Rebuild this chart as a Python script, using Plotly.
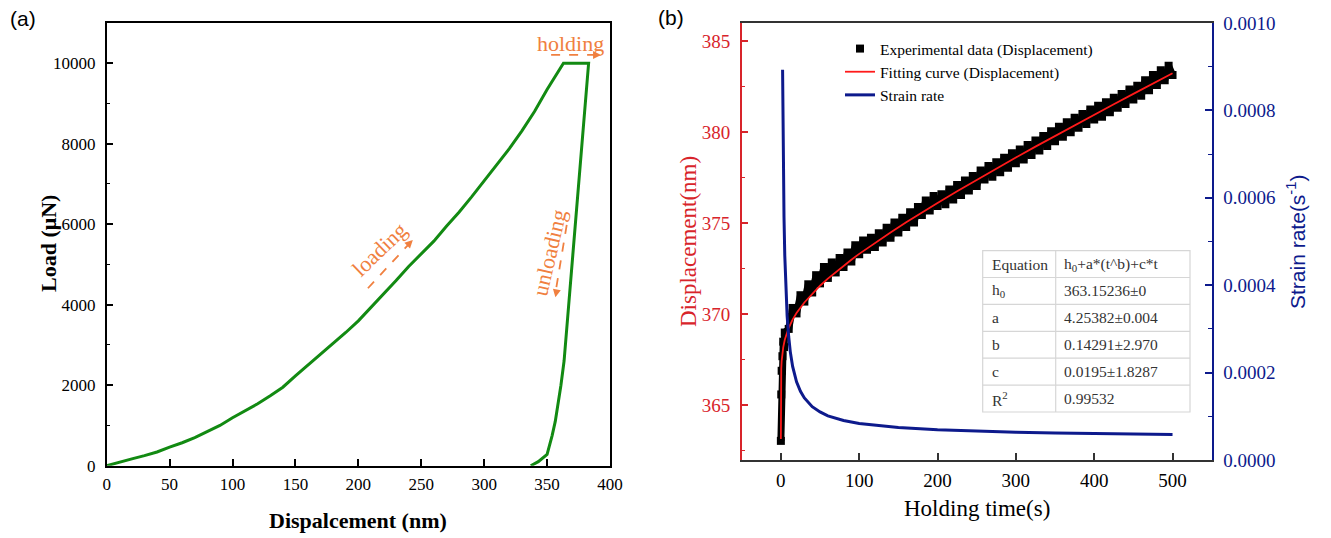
import plotly.graph_objects as go

# ---------------- Panel (a): load-displacement ----------------
load_disp = [0, 10, 20, 30, 40, 50, 60, 70, 80, 90, 100, 110, 120, 130, 140, 150,
             160, 170, 180, 190, 200, 210, 220, 230, 240, 250, 260, 270, 280, 290,
             300, 310, 320, 330, 340, 350, 357, 363, 383,
             377.8, 372.6, 367.5, 365.5, 363.5, 361, 358.5, 356.5, 354, 352, 350, 343, 337]
load_val = [0, 90, 170, 250, 340, 460, 570, 700, 850, 1000, 1190, 1360, 1540, 1740, 1950, 2230,
            2500, 2760, 3050, 3310, 3600, 3930, 4250, 4600, 4950, 5260, 5580, 5950, 6300, 6680,
            7080, 7450, 7880, 8320, 8800, 9350, 9700, 10000, 10000,
            8000, 6000, 4000, 3300, 2600, 2000, 1500, 1100, 750, 480, 280, 100, 0]

# ---------------- Panel (b): holding creep ----------------
exp_t = [0, 0.5, 1, 2, 3, 4, 5, 10, 15, 20, 25, 30, 35, 40, 45, 50, 55, 60, 65, 70, 75, 80, 85, 90, 95,
         100, 105, 110, 115, 120, 125, 130, 135, 140, 145, 150, 155, 160, 165, 170, 175, 180, 185, 190, 195,
         200, 205, 210, 215, 220, 225, 230, 235, 240, 245, 250, 255, 260, 265, 270, 275, 280, 285, 290, 295,
         300, 305, 310, 315, 320, 325, 330, 335, 340, 345, 350, 355, 360, 365, 370, 375, 380, 385, 390, 395,
         400, 405, 410, 415, 420, 425, 430, 435, 440, 445, 450, 455, 460, 465, 470, 475, 480, 485, 490, 495, 500]
exp_h = [363.05, 365.6, 366.9, 367.7, 368.5, 368.2, 369.0, 369.2, 370.35, 370.05, 371.05, 370.7, 371.65, 371.2, 372.15,
         371.7, 372.6, 372.0, 372.85, 372.3, 373.1, 372.6, 373.4, 372.9, 373.8,
         373.3, 374.05, 373.55, 374.2, 373.7, 374.45, 373.95, 374.75, 374.2, 375.05, 374.5, 375.3, 374.8, 375.6, 375.05,
         375.9, 375.45, 376.25, 375.7, 376.5,
         375.95, 376.6, 376.05, 376.85, 376.3, 377.1, 376.55, 377.35, 376.8, 377.6, 377.05, 377.9, 377.4, 378.15, 377.55,
         378.35, 377.8, 378.6, 378.05, 378.85,
         378.3, 379.05, 378.5, 379.3, 378.75, 379.55, 379.0, 379.8, 379.25, 380.05, 379.5, 380.3, 379.75, 380.55, 380.0,
         380.8, 380.25, 381.0, 380.45, 381.25,
         380.7, 381.45, 380.85, 381.65, 381.1, 381.9, 381.35, 382.1, 381.55, 382.35, 381.8, 382.55, 382.0, 382.85, 382.3,
         383.15, 382.6, 383.4, 382.85, 383.65, 383.15]

fit_t = [0, 0.001, 0.01, 0.05, 0.2, 0.5, 1, 2, 3, 5, 7, 10, 15, 20, 30, 40, 50, 60, 70, 80, 90, 100,
         120, 140, 160, 180, 200, 225, 250, 275, 300, 325, 350, 375, 400, 425, 450, 475, 500]
fit_h = [363.15, 364.74, 365.36, 365.93, 366.53, 367.01, 367.43, 367.89, 368.19, 368.60, 368.91, 369.26,
         369.71, 370.07, 370.65, 371.14, 371.57, 371.96, 372.32, 372.67, 373.00, 373.32,
         373.92, 374.50, 375.06, 375.60, 376.12, 376.76, 377.39, 378.01, 378.61, 379.21, 379.80,
         380.39, 380.97, 381.54, 382.11, 382.68, 383.24]

sr_t = [2.2, 3, 4, 5, 6, 8, 10, 12, 15, 20, 25, 30, 40, 50, 60, 80, 100, 125, 150, 200, 250, 300, 350, 400, 450, 500]
sr_v = [0.000893, 0.000697, 0.000556, 0.000468, 0.000408, 0.000330, 0.000282, 0.000248, 0.000214, 0.000179,
        0.000157, 0.000142, 0.000122, 0.000110, 0.000101, 0.0000905, 0.0000837, 0.0000781, 0.0000742,
        0.0000691, 0.0000659, 0.0000636, 0.0000619, 0.0000606, 0.0000595, 0.0000586]

tbl_col1 = ["Equation", "h<sub>0</sub>", "a", "b", "c", "R<sup>2</sup>"]
tbl_col2 = ["h<sub>0</sub>+a*(t^b)+c*t", "363.15236±0", "4.25382±0.004", "0.14291±2.970",
            "0.0195±1.8287", "0.99532"]

W, H = 1331, 538
SERIF = "Liberation Serif"
SANS = "Liberation Sans"
GREEN = "#128a12"
ORANGE = "#f08040"
RED = "#d8242a"
NAVY = "#0d1a8c"

def px(x):
    return x / W

def py(y):
    return 1 - y / H

fig = go.Figure()

fig.add_trace(go.Scatter(x=load_disp, y=load_val, mode="lines", line=dict(color=GREEN, width=3),
                         showlegend=False, xaxis="x", yaxis="y"))

# experimental data: dense band (line through the points) + square markers
fig.add_trace(go.Scatter(x=exp_t, y=exp_h, mode="lines", line=dict(color="black", width=7),
                         showlegend=False, hoverinfo="skip", xaxis="x2", yaxis="y2"))
fig.add_trace(go.Scatter(x=exp_t, y=exp_h, mode="markers", name="Experimental data (Displacement)",
                         marker=dict(symbol="square", size=8, color="black"), xaxis="x2", yaxis="y2"))
fig.add_trace(go.Scatter(x=fit_t, y=fit_h, mode="lines", name="Fitting curve (Displacement)",
                         line=dict(color="#ff1a1a", width=1.8), xaxis="x2", yaxis="y2"))
fig.add_trace(go.Scatter(x=sr_t, y=sr_v, mode="lines", name="Strain rate",
                         line=dict(color=NAVY, width=3), xaxis="x2", yaxis="y3"))

tickfont_a = dict(family=SERIF, size=17, color="black")
fig.update_layout(
    width=W, height=H, margin=dict(l=0, r=0, t=0, b=0, autoexpand=False),
    paper_bgcolor="white", plot_bgcolor="white",
    font=dict(family=SERIF),
    xaxis=dict(domain=[px(106.7), px(610)], range=[0, 400], tick0=0, dtick=50,
               ticks="inside", ticklen=7, tickwidth=1.5, tickcolor="black",
               showline=True, linecolor="black", linewidth=1.5, mirror=True,
               showgrid=False, zeroline=False, tickfont=tickfont_a, ticklabelstandoff=2, anchor="y"),
    yaxis=dict(domain=[py(465.7), py(23)], range=[0, 11000], tick0=0, dtick=2000, tickformat="d",
               ticks="inside", ticklen=7, tickwidth=1.5, tickcolor="black",
               minor=dict(ticks="inside", ticklen=4, dtick=1000, tickcolor="black", tickwidth=1.2),
               showline=True, linecolor="black", linewidth=1.5, mirror=True,
               showgrid=False, zeroline=False, tickfont=tickfont_a, ticklabelstandoff=6, anchor="x"),
    xaxis2=dict(domain=[px(741.7), px(1211.7)], range=[-50, 550], tick0=0, dtick=100,
                ticks="inside", ticklen=7, tickwidth=1.5, tickcolor="#333",
                showline=True, linecolor="#333", linewidth=1.5, mirror=True,
                showgrid=False, zeroline=False, tickfont=dict(family=SERIF, size=19, color="black"),
                ticklabelstandoff=2, anchor="y2"),
    yaxis2=dict(domain=[py(460), py(23)], range=[362, 386], tick0=365, dtick=5,
                ticks="inside", ticklen=7, tickwidth=1.5, tickcolor=RED,
                minor=dict(ticks="inside", ticklen=4, dtick=2.5, tickcolor=RED, tickwidth=1.2),
                showline=True, linecolor=RED, linewidth=1.5, mirror=False,
                showgrid=False, zeroline=False, tickfont=dict(family=SERIF, size=19, color=RED),
                ticklabelstandoff=6, anchor="x2"),
    yaxis3=dict(domain=[py(460), py(23)], range=[0, 0.001], tick0=0, dtick=0.0002, tickformat=".4f",
                overlaying="y2", side="right", anchor="x2",
                ticks="inside", ticklen=7, tickwidth=1.5, tickcolor=NAVY,
                minor=dict(ticks="inside", ticklen=4, dtick=0.0001, tickcolor=NAVY, tickwidth=1.2),
                showline=True, linecolor=NAVY, linewidth=1.5,
                showgrid=False, zeroline=False, tickfont=dict(family=SERIF, size=19, color=NAVY),
                ticklabelstandoff=6),
    legend=dict(x=px(840), y=py(32), xanchor="left", yanchor="top", bgcolor="rgba(0,0,0,0)",
                font=dict(family=SERIF, size=15.5, color="black"), tracegroupgap=0, itemwidth=30),
)

P = dict(xref="paper", yref="paper", showarrow=False, xanchor="center", yanchor="middle")
ann = []
ann.append(dict(x=px(48), y=py(244), text="<b>Load (μN)</b>", textangle=-90,
                font=dict(family=SERIF, size=22, color="black"), **P))
ann.append(dict(x=px(358), y=py(520), text="<b>Dispalcement (nm)</b>",
                font=dict(family=SERIF, size=22, color="black"), **P))
ann.append(dict(x=px(688), y=py(242), text="Displacement(nm)", textangle=-90,
                font=dict(family=SERIF, size=23, color=RED), **P))
ann.append(dict(x=px(1296), y=py(242), text="Strain rate(s<sup>-1</sup>)", textangle=-90,
                font=dict(family=SANS, size=21, color=NAVY), **P))
ann.append(dict(x=px(977), y=py(508), text="Holding time(s)",
                font=dict(family=SERIF, size=23, color="black"), **P))
ann.append(dict(x=px(23), y=py(18), text="(a)", font=dict(family=SANS, size=21, color="black"), **P))
ann.append(dict(x=px(671), y=py(17), text="(b)", font=dict(family=SANS, size=21, color="black"), **P))
# panel (a) orange labels
ann.append(dict(x=368.5, y=10500, xref="x", yref="y", text="holding", showarrow=False,
                font=dict(family=SERIF, size=22, color=ORANGE)))
ann.append(dict(x=216.9, y=5360, xref="x", yref="y", text="loading", textangle=-44, showarrow=False,
                font=dict(family=SERIF, size=22, color=ORANGE)))
ann.append(dict(x=352.2, y=5286, xref="x", yref="y", text="unloading", textangle=-77, showarrow=False,
                font=dict(family=SERIF, size=22, color=ORANGE)))
# arrowheads
ann.append(dict(x=392.9, y=10206, xref="x", yref="y", ax=-8, ay=0, text="", showarrow=True,
                arrowhead=2, arrowsize=1, arrowwidth=1.6, arrowcolor=ORANGE))
ann.append(dict(x=243.3, y=5609, xref="x", yref="y", ax=-6, ay=6, text="", showarrow=True,
                arrowhead=2, arrowsize=1, arrowwidth=1.6, arrowcolor=ORANGE))
ann.append(dict(x=356.6, y=4185, xref="x", yref="y", ax=1.5, ay=-8, text="", showarrow=True,
                arrowhead=2, arrowsize=1, arrowwidth=1.6, arrowcolor=ORANGE))

shapes = [
    dict(type="line", xref="x", yref="y", x0=353.2, y0=10206, x1=390, y1=10206,
         line=dict(color=ORANGE, width=1.8, dash="dash")),
    dict(type="line", xref="x", yref="y", x0=207.6, y0=4409, x1=240, y1=5500,
         line=dict(color=ORANGE, width=1.8, dash="dash")),
    dict(type="line", xref="x", yref="y", x0=365.6, y0=5982, x1=357.2, y1=4400,
         line=dict(color=ORANGE, width=1.8, dash="dash")),
]

# ---- parameter table (drawn with shapes + text) ----
T_LEFT, T_MID, T_RIGHT = 982.7, 1055.7, 1190
row_lines = [250.6, 277.5, 304.4, 331.3, 358.2, 385.1, 412]
GRID = "#d6d6d6"
shapes.append(dict(type="rect", xref="paper", yref="paper", x0=px(T_LEFT), x1=px(T_RIGHT),
                   y0=py(row_lines[-1]), y1=py(row_lines[0]), fillcolor="white",
                   line=dict(color=GRID, width=1.2), layer="above"))
for yl in row_lines[1:-1]:
    shapes.append(dict(type="line", xref="paper", yref="paper", x0=px(T_LEFT), x1=px(T_RIGHT),
                       y0=py(yl), y1=py(yl), line=dict(color=GRID, width=1.2), layer="above"))
shapes.append(dict(type="line", xref="paper", yref="paper", x0=px(T_MID), x1=px(T_MID),
                   y0=py(row_lines[-1]), y1=py(row_lines[0]), line=dict(color=GRID, width=1.2), layer="above"))
for i in range(len(tbl_col1)):
    yc = (row_lines[i] + row_lines[i + 1]) / 2
    ann.append(dict(x=px(T_LEFT + 7), y=py(yc), text=tbl_col1[i], xref="paper", yref="paper",
                    showarrow=False, xanchor="left", yanchor="middle",
                    font=dict(family=SERIF, size=15.5, color="#333")))
    ann.append(dict(x=px(T_MID + 6), y=py(yc), text=tbl_col2[i], xref="paper", yref="paper",
                    showarrow=False, xanchor="left", yanchor="middle",
                    font=dict(family=SERIF, size=15.5, color="#333")))

fig.update_layout(annotations=ann, shapes=shapes)

fig.write_html("out.html")
